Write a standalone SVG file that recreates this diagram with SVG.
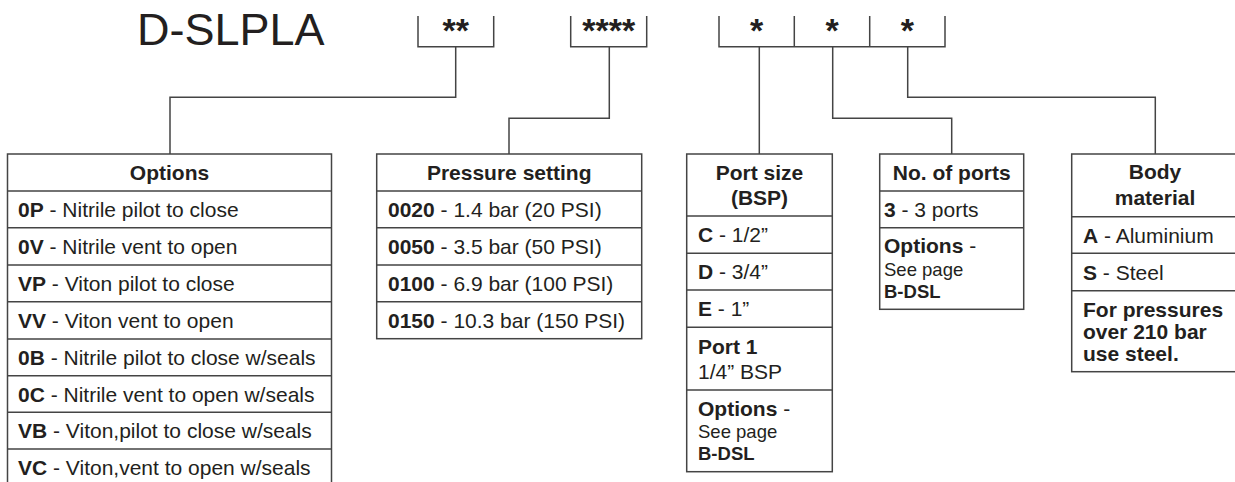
<svg xmlns="http://www.w3.org/2000/svg" width="1235" height="482" viewBox="0 0 1235 482">
<style>
.t{font-family:"Liberation Sans",Arial,sans-serif;font-size:21px;fill:#231f20}
.b{font-weight:bold}
.s{font-size:18.5px}
.h{font-weight:bold;text-anchor:middle}
.star{font-family:"Liberation Sans",Arial,sans-serif;font-size:34px;font-weight:bold;fill:#231f20;text-anchor:middle}
.box{fill:#fff;stroke:#444;stroke-width:1.5}
.ln{fill:none;stroke:#444;stroke-width:1.5}
</style>
<rect width="1235" height="482" fill="#fff"/>
<g id="title">
<text x="137" y="45" font-family="Liberation Sans,Arial,sans-serif" font-size="45" fill="#231f20">D-SLPLA</text>
</g>
<g id="code-options">
<path class="ln" d="M418,16V46.7H493.7V16"/>
<text class="star" x="455.7" y="42">**</text>
</g>
<g id="code-pressure">
<path class="ln" d="M570.7,16V46.7H646.7V16"/>
<text class="star" x="608.7" y="42">****</text>
</g>
<g id="code-port">
<path class="ln" d="M719,16V46.7H945V16M794.3,16V46.7M869.7,16V46.7"/>
<text class="star" x="756.7" y="42">*</text>
<text class="star" x="832" y="42">*</text>
<text class="star" x="907.3" y="42">*</text>
</g>
<g id="connectors">
<path class="ln" d="M455.7,46.7V97.3H170V154"/>
<path class="ln" d="M609.3,46.7V118.3H509V154"/>
<path class="ln" d="M759.3,46.7V154"/>
<path class="ln" d="M832.7,46.7V118.3H951.7V154"/>
<path class="ln" d="M907.7,46.7V97.3H1155.3V154"/>
</g>
<g id="options">
<rect class="box" x="7.5" y="154" width="324" height="332"/>
<path class="ln" d="M7.5,191H331.5M7.5,227.7H331.5M7.5,265H331.5M7.5,301.7H331.5M7.5,339H331.5M7.5,375.7H331.5M7.5,412.3H331.5M7.5,449H331.5"/>
<text class="t h" x="169.5" y="180">Options</text>
<text class="t" x="18" y="216.8"><tspan class="b">0P</tspan> - Nitrile pilot to close</text>
<text class="t" x="18" y="253.8"><tspan class="b">0V</tspan> - Nitrile vent to open</text>
<text class="t" x="18" y="290.8"><tspan class="b">VP</tspan> - Viton pilot to close</text>
<text class="t" x="18" y="327.8"><tspan class="b">VV</tspan> - Viton vent to open</text>
<text class="t" x="18" y="364.8"><tspan class="b">0B</tspan> - Nitrile pilot to close w/seals</text>
<text class="t" x="18" y="401.5"><tspan class="b">0C</tspan> - Nitrile vent to open w/seals</text>
<text class="t" x="18" y="438.2"><tspan class="b">VB</tspan> - Viton,pilot to close w/seals</text>
<text class="t" x="18" y="475"><tspan class="b">VC</tspan> - Viton,vent to open w/seals</text>
</g>
<g id="pressure">
<rect class="box" x="376.7" y="154" width="265" height="184.7"/>
<path class="ln" d="M376.7,191H641.7M376.7,227.7H641.7M376.7,265H641.7M376.7,301.7H641.7"/>
<text class="t h" x="509.2" y="180">Pressure setting</text>
<text class="t" x="388" y="216.8"><tspan class="b">0020</tspan> - 1.4 bar (20 PSI)</text>
<text class="t" x="388" y="253.8"><tspan class="b">0050</tspan> - 3.5 bar (50 PSI)</text>
<text class="t" x="388" y="290.8"><tspan class="b">0100</tspan> - 6.9 bar (100 PSI)</text>
<text class="t" x="388" y="327.8"><tspan class="b">0150</tspan> - 10.3 bar (150 PSI)</text>
</g>
<g id="port-size">
<rect class="box" x="686.7" y="154" width="145.6" height="317.7"/>
<path class="ln" d="M686.7,216H832.3M686.7,253.3H832.3M686.7,290H832.3M686.7,327.3H832.3M686.7,390H832.3"/>
<text class="t h" x="759.5" y="180">Port size</text>
<text class="t h" x="759.5" y="205">(BSP)</text>
<text class="t" x="698" y="242"><tspan class="b">C</tspan> - 1/2”</text>
<text class="t" x="698" y="279"><tspan class="b">D</tspan> - 3/4”</text>
<text class="t" x="698" y="316"><tspan class="b">E</tspan> - 1”</text>
<text class="t b" x="698" y="354">Port 1</text>
<text class="t" x="698" y="379">1/4” BSP</text>
<text class="t" x="698" y="415.7"><tspan class="b">Options</tspan> -</text>
<text class="t s" x="698" y="438.3">See page</text>
<text class="t s b" x="698" y="460">B-DSL</text>
</g>
<g id="ports">
<rect class="box" x="879.7" y="154" width="144" height="155.3"/>
<path class="ln" d="M879.7,191H1023.7M879.7,227.7H1023.7"/>
<text class="t h" x="951.7" y="180">No. of ports</text>
<text class="t" x="884" y="216.8"><tspan class="b">3</tspan> - 3 ports</text>
<text class="t" x="884" y="253.4"><tspan class="b">Options</tspan> -</text>
<text class="t s" x="884" y="276">See page</text>
<text class="t s b" x="884" y="297.7">B-DSL</text>
</g>
<g id="body">
<rect class="box" x="1071.7" y="154" width="166" height="217.7"/>
<path class="ln" d="M1071.7,216.7H1237.7M1071.7,253.3H1237.7M1071.7,290.7H1237.7"/>
<text class="t h" x="1155" y="179">Body</text>
<text class="t h" x="1155" y="205">material</text>
<text class="t" x="1083" y="242.5"><tspan class="b">A</tspan> - Aluminium</text>
<text class="t" x="1083" y="279.5"><tspan class="b">S</tspan> - Steel</text>
<text class="t b" x="1083" y="316.7">For pressures</text>
<text class="t b" x="1083" y="338.5">over 210 bar</text>
<text class="t b" x="1083" y="360.7">use steel.</text>
</g>
</svg>
